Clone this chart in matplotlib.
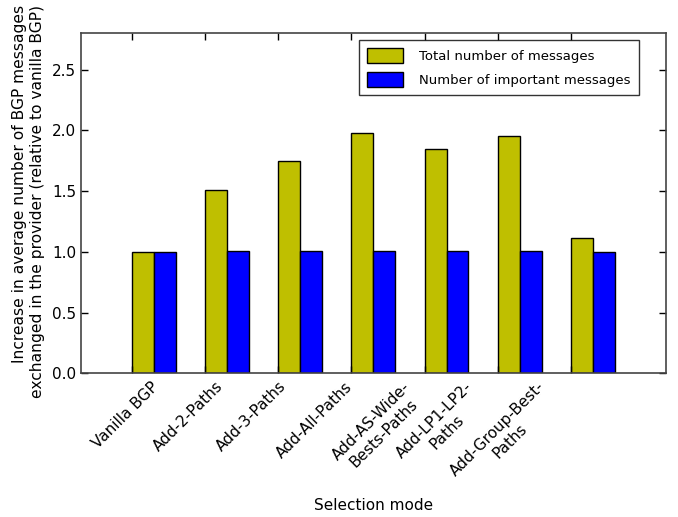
import numpy as np
import matplotlib
matplotlib.use('Agg')
import matplotlib.pyplot as plt

modes = ["Vanilla BGP", "Add-2-Paths", "Add-3-Paths", "Add-All-Paths",
         "Add-AS-Wide-\nBests-Paths", "Add-LP1-LP2-\nPaths", "Add-Group-Best-\nPaths"]
total_msgs = [1.0, 1.51, 1.75, 1.98, 1.85, 1.955, 1.11]
important_msgs = [1.0, 1.01, 1.01, 1.01, 1.01, 1.01, 1.0]

ind = np.arange(len(modes))
width = 0.3

fig = plt.figure(figsize=(6.78, 5.17), dpi=100)
ax = fig.add_axes([0.1195, 0.278, 0.8625, 0.658])

ax.bar(ind, total_msgs, width, color='#bfbf00', edgecolor='black', linewidth=1,
       align='edge', label='Total number of messages')
ax.bar(ind + width, important_msgs, width, color='#0000ff', edgecolor='black', linewidth=1,
       align='edge', label='Number of important messages')

ax.set_xlim(-0.7, 7.3)
ax.set_ylim(0, 2.8)
ax.set_yticks(np.arange(0, 2.51, 0.5))
ax.set_yticklabels(['%.1f' % v for v in np.arange(0, 2.51, 0.5)], fontsize=11)

# tick marks at group edges, labels drawn on minor ticks
ax.set_xticks(ind)
ax.set_xticklabels([])
ax.set_xticks(-0.096 + 0.863 * ind, minor=True)
ax.set_xticklabels(modes, minor=True, rotation=45, ha='center', fontsize=11)
ax.tick_params(axis='x', which='minor', length=0, pad=4)
ax.tick_params(which='major', direction='in', top=True, right=True, length=5, width=1)

for s in ax.spines.values():
    s.set_color('#444444')
    s.set_linewidth(1.2)

ax.set_ylabel('Increase in average number of BGP messages\nexchanged in the provider (relative to vanilla BGP)',
              fontsize=11.2, ha='right', multialignment='right')
ax.yaxis.set_label_coords(-0.062, 1.083)
ax.set_xlabel('Selection mode', fontsize=11, labelpad=5)

leg = ax.legend(loc='upper right', fontsize=9.5, fancybox=False, edgecolor='black',
                borderpad=0.6, labelspacing=0.7, handlelength=2.8, handleheight=1.4,
                handletextpad=1.2, bbox_to_anchor=(0.965, 1.0))
leg.get_frame().set_linewidth(1)

fig.savefig('out.png', dpi=100)
